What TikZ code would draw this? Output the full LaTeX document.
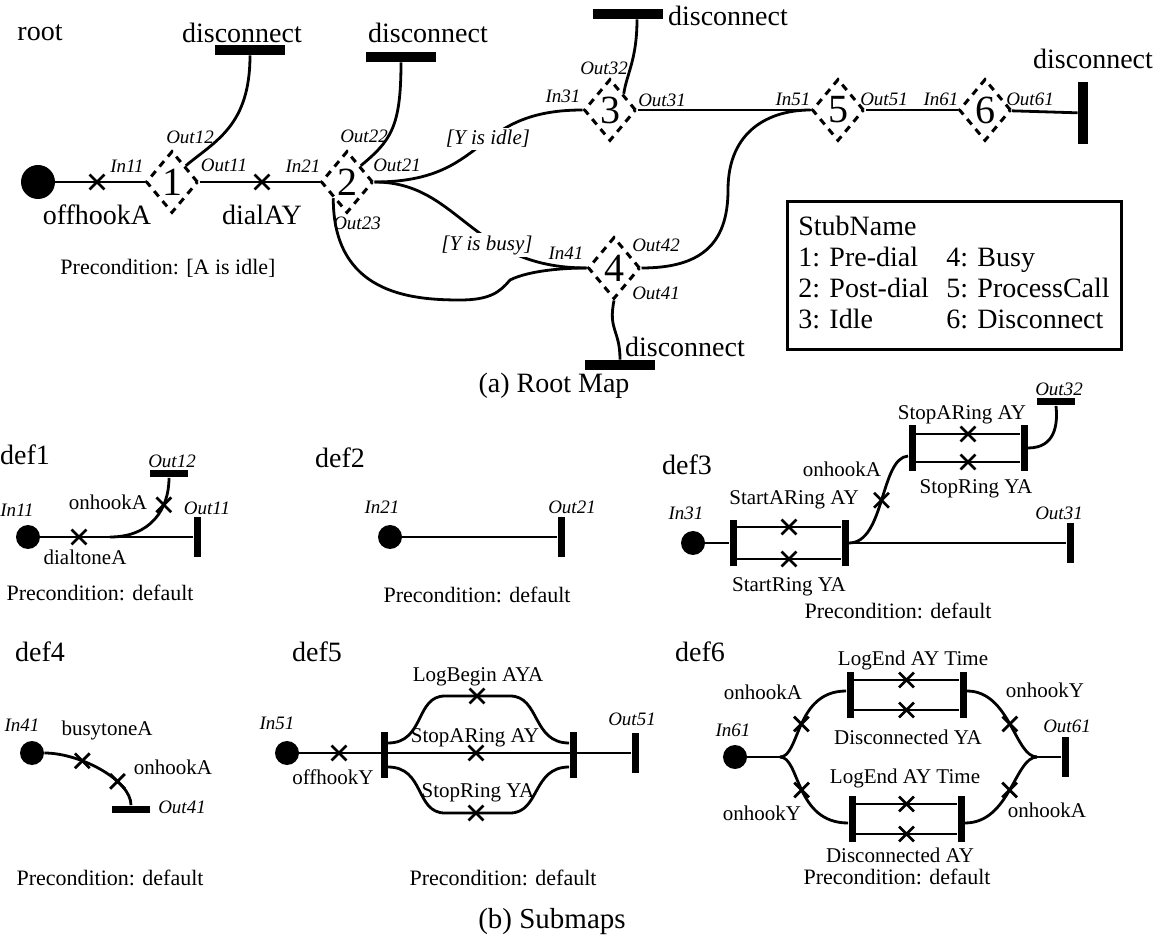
\documentclass[tikz,border=0pt]{standalone}
\usepackage{fontspec}
\setmainfont{Liberation Serif}
\usetikzlibrary{shapes.geometric, shapes.misc, positioning, calc}

\begin{document}
\begin{tikzpicture}[
    x=0.5pt, y=-0.5pt,
    wire/.style={line width=1.4pt},
    big/.style={font=\fontsize{14}{15.5}\selectfont, inner sep=0},
    lab/.style={font=\fontsize{10.5}{12}\selectfont, inner sep=0},
    pre/.style={font=\fontsize{11}{13}\selectfont, inner sep=0},
    port/.style={font=\itshape\fontsize{9.5}{11}\selectfont, inner sep=0},
    cond/.style={font=\itshape\fontsize{10.5}{12}\selectfont, fill=white, inner sep=1pt},
    stub/.style={diamond, draw, dash pattern=on 3.5pt off 3pt, line width=1.5pt,
      minimum width=26pt, minimum height=31pt, inner sep=0,
      font=\fontsize{20}{20}\selectfont},
    start/.style={circle, fill, minimum size=17pt, inner sep=0},
    sstart/.style={circle, fill, minimum size=12pt, inner sep=0},
    hbar/.style={rectangle, fill, minimum width=35pt, minimum height=5pt, inner sep=0},
    vbar/.style={rectangle, fill, minimum width=5pt, minimum height=31pt, inner sep=0},
    shbar/.style={rectangle, fill, minimum width=19pt, minimum height=3.5pt, inner sep=0},
    svbar/.style={rectangle, fill, minimum width=3.5pt, minimum height=20pt, inner sep=0},
    andbar/.style={rectangle, fill, minimum width=3.5pt, minimum height=23pt, inner sep=0},
    resp/.style={cross out, draw, line width=1.4pt, minimum size=6pt, inner sep=0}
]
\useasboundingbox (0,0) rectangle (1162,940);

% (a) root map
\node[big] (root) at (40,33) {root};
\node[start] (st) at (38,182) {};
\node[stub] (s1) at (172,182) {1};
\node[stub] (s2) at (347,182) {2};
\node[stub] (s3) at (610,110) {3};
\node[stub] (s4) at (614,268) {4};
\node[stub] (s5) at (838,110) {5};
\node[stub] (s6) at (985,110) {6};
\node[hbar] (e1) at (250,50) {};
\node[hbar] (e2) at (401,57) {};
\node[hbar] (e3) at (628,14) {};
\node[hbar] (e4) at (620,365) {};
\node[vbar] (e6) at (1083,113) {};
\node[big] (e1l) at (242,33) {disconnect};
\node[big] (e2l) at (428,33) {disconnect};
\node[big] (e3l) at (728,16) {disconnect};
\node[big] (e4l) at (685,347) {disconnect};
\node[big] (e6l) at (1093,59) {disconnect};

\draw[wire] (st) -- (s1);
\draw[wire] (s1) -- (s2);
\draw[wire] (e1.south) .. controls +(0,70) and +(30,-25) .. (s1.north east);
\draw[wire] (e2.south) .. controls +(0,65) and +(30,-25) .. (s2.north east);
\draw[wire] (s2.east) .. controls (460,182) and (470,268) .. (s4.west);
\draw[wire] (s2.south west) .. controls +(0,95) and +(-50,0) .. (460,300)
  .. controls +(30,0) and +(-10,12) .. (510,280)
  .. controls +(20,-10) and +(-20,0) .. (s4.west);
\draw[wire] (s3) -- (s5);
\draw[wire] ([xshift=4.5pt]e3.south) .. controls +(0,40) and +(3,-20) .. (s3.north east);
\draw[wire] (s4.east) .. controls (700,268) and (728,245) .. (728,190)
  .. controls (728,130) and (770,110) .. (s5.west);
\draw[wire] (s5) -- (s6);
\draw[wire] (s6) -- (e6);
\draw[wire] (s4.south) .. controls +(-6,30) and +(0,-30) .. (e4.north);
\node[cond] (busy) at (487,245) {[Y is busy]};
\draw[wire] (s2.east) .. controls (490,182) and (470,110) .. (s3.west);
\node[cond] (idle) at (488,139) {[Y is idle]};

\node[resp] (r1) at (97,182) {};
\node[resp] (r2) at (262,182) {};
\node[big] (r1l) at (97,215) {offhookA};
\node[big] (r2l) at (262,215) {dialAY};

\node[port] (in11) at (127,166) {In11};
\node[port] (out12) at (190,137) {Out12};
\node[port] (out11) at (224,165) {Out11};
\node[port] (in21) at (303,166) {In21};
\node[port] (out22) at (364,136) {Out22};
\node[port] (out21) at (397,165) {Out21};
\node[port] (out23) at (357,223) {Out23};
\node[port] (in31) at (563,96) {In31};
\node[port] (out32) at (604,68) {Out32};
\node[port] (out31) at (662,100) {Out31};
\node[port] (in41) at (566,253) {In41};
\node[port] (out42) at (656,245) {Out42};
\node[port] (out41) at (656,293) {Out41};
\node[port] (in51) at (793,99) {In51};
\node[port] (out51) at (884,99) {Out51};
\node[port] (in61) at (941,99) {In61};
\node[port] (out61) at (1030,99) {Out61};

\node[pre] (rpre) at (168,268) {Precondition: [A is idle]};
\node[big, draw, line width=1.5pt, inner sep=0, minimum width=167pt,
  minimum height=74pt] (legend) at (954,276) {%
  \begin{tabular}{@{}p{74pt}@{}l@{}}
  StubName & \\
  1: Pre-dial & 4: Busy\\
  2: Post-dial & 5: ProcessCall\\
  3: Idle & 6: Disconnect
  \end{tabular}};
\node[big] (capa) at (554,386) {(a) Root Map};

% (b) submaps
% def1
\node[big] (def1) at (25,455) {def1};
\node[sstart] (d1s) at (28,537) {};
\node[svbar] (d1o11) at (197,537) {};
\node[shbar] (d1o12) at (169,474) {};
\coordinate (d1f) at (110,537);
\draw[wire] (d1s) -- (d1o11);
\draw[wire] (d1f) .. controls (150,537) and (169,510) ..
  node[resp, pos=0.7] (d1r2) {} (d1o12.south);
\node[resp] (d1r1) at (79,537) {};
\node[port] (d1in) at (17,510) {In11};
\node[port] (d1out11) at (207,508) {Out11};
\node[port] (d1out12) at (172,461) {Out12};
\node[lab] (d1r2l) at (108,502) {onhookA};
\node[lab] (d1r1l) at (85,557) {dialtoneA};
\node[pre] (d1pre) at (100,593) {Precondition: default};

% def2
\node[big] (def2) at (340,458) {def2};
\node[sstart] (d2s) at (390,537) {};
\node[svbar] (d2o21) at (561,537) {};
\draw[wire] (d2s) -- (d2o21);
\node[port] (d2in) at (382,507) {In21};
\node[port] (d2out) at (572,507) {Out21};
\node[pre] (d2pre) at (477,595) {Precondition: default};

% def3
\node[big] (def3) at (687,465) {def3};
\node[sstart] (d3s) at (693,543) {};
\node[andbar] (d3b1) at (733,543) {};
\node[andbar] (d3b2) at (845,543) {};
\node[andbar] (d3b3) at (912,448) {};
\node[andbar] (d3b4) at (1024,448) {};
\node[svbar] (d3o31) at (1070,543) {};
\node[shbar] (d3o32) at (1056,402) {};
\draw[wire] (d3s) -- (d3b1);
\draw[wire] ([yshift=8pt]d3b1.east) -- node[resp] (d3r1) {} ([yshift=8pt]d3b2.west);
\draw[wire] ([yshift=-8pt]d3b1.east) -- node[resp] (d3r2) {} ([yshift=-8pt]d3b2.west);
\draw[wire] (d3b2) -- (d3o31);
\draw[wire] (d3b2.east) .. controls (885,543) and (880,458) ..
  node[resp, pos=0.5] (d3r3) {} ([yshift=-4pt]d3b3.west);
\draw[wire] ([yshift=7pt]d3b3.east) -- node[resp] (d3r4) {} ([yshift=7pt]d3b4.west);
\draw[wire] ([yshift=-7pt]d3b3.east) -- node[resp] (d3r5) {} ([yshift=-7pt]d3b4.west);
\draw[wire] (d3b4.east) .. controls (1055,448) and (1058,425) .. (d3o32.south);
\node[port] (d3in) at (686,513) {In31};
\node[port] (d3out31) at (1059,513) {Out31};
\node[port] (d3out32) at (1059,389) {Out32};
\node[lab] (d3r1l) at (794,500) {StartARing AY};
\node[lab] (d3r2l) at (789,587) {StartRing YA};
\node[lab] (d3r3l) at (842,469) {onhookA};
\node[lab] (d3r4l) at (962,415) {StopARing AY};
\node[lab] (d3r5l) at (976,489) {StopRing YA};
\node[pre] (d3pre) at (898,611) {Precondition: default};

% def4
\node[big] (def4) at (40,652) {def4};
\node[sstart] (d4s) at (32,753) {};
\node[shbar] (d4o41) at (131,809) {};
\draw[wire] (d4s) .. controls (80,753) and (131,780) ..
  node[resp, pos=0.33] (d4r1) {}
  node[resp, pos=0.68] (d4r2) {} (d4o41.north);
\node[port] (d4in) at (22,725) {In41};
\node[port] (d4out) at (182,807) {Out41};
\node[lab] (d4r1l) at (107,730) {busytoneA};
\node[lab] (d4r2l) at (173,767) {onhookA};
\node[pre] (d4pre) at (110,878) {Precondition: default};

% def5
\node[big] (def5) at (317,652) {def5};
\node[sstart] (d5s) at (287,753) {};
\node[andbar] (d5b1) at (384,755) {};
\node[andbar] (d5b2) at (573,755) {};
\node[svbar] (d5o51) at (635,753) {};
\draw[wire] (d5s) -- (d5o51);
\draw[wire] ([yshift=6pt]d5b1.east) .. controls (425,743) and (415,696) .. (445,696)
  -- (510,696) .. controls (540,696) and (532,743) .. ([yshift=6pt]d5b2.west);
\draw[wire] ([yshift=-6pt]d5b1.east) .. controls (425,767) and (415,813) .. (445,813)
  -- (510,813) .. controls (540,813) and (532,767) .. ([yshift=-6pt]d5b2.west);
\node[resp] (d5r1) at (339,753) {};
\node[resp] (d5r2) at (477,696) {};
\node[resp] (d5r3) at (476,753) {};
\node[resp] (d5r4) at (476,813) {};
\node[port] (d5in) at (277,723) {In51};
\node[port] (d5out) at (632,719) {Out51};
\node[lab] (d5r1l) at (333,777) {offhookY};
\node[lab] (d5r2l) at (478,677) {LogBegin AYA};
\node[lab] (d5r3l) at (475,738) {StopARing AY};
\node[lab] (d5r4l) at (478,793) {StopRing YA};
\node[pre] (d5pre) at (503,878) {Precondition: default};

% def6
\node[big] (def6) at (700,652) {def6};
\node[sstart] (d6s) at (735,757) {};
\coordinate (d6f) at (780,757);
\coordinate (d6j) at (1037,757);
\node[andbar] (d6b1) at (850,695) {};
\node[andbar] (d6b2) at (963,695) {};
\node[andbar] (d6b3) at (852,819) {};
\node[andbar] (d6b4) at (961,819) {};
\node[svbar] (d6o61) at (1065,757) {};
\draw[wire] (d6s) -- (d6f);
\draw[wire] (d6j) -- (d6o61);
\draw[wire] (d6f) .. controls (800,757) and (795,691) ..
  node[resp, pos=0.5] (d6r1) {} ([yshift=2pt]d6b1.west);
\draw[wire] (d6f) .. controls (800,757) and (795,823) ..
  node[resp, pos=0.5] (d6r2) {} ([yshift=-2pt]d6b3.west);
\draw[wire] ([yshift=2pt]d6b2.east) .. controls (1010,691) and (1015,757) ..
  node[resp, pos=0.5] (d6r3) {} (d6j);
\draw[wire] ([yshift=-2pt]d6b4.east) .. controls (1010,823) and (1015,757) ..
  node[resp, pos=0.5] (d6r4) {} (d6j);
\draw[wire] ([yshift=7.5pt]d6b1.east) -- node[resp] (d6r5) {} ([yshift=7.5pt]d6b2.west);
\draw[wire] ([yshift=-7.5pt]d6b1.east) -- node[resp] (d6r6) {} ([yshift=-7.5pt]d6b2.west);
\draw[wire] ([yshift=7.5pt]d6b3.east) -- node[resp] (d6r7) {} ([yshift=7.5pt]d6b4.west);
\draw[wire] ([yshift=-7.5pt]d6b3.east) -- node[resp] (d6r8) {} ([yshift=-7.5pt]d6b4.west);
\node[port] (d6in) at (733,730) {In61};
\node[port] (d6out) at (1067,726) {Out61};
\node[lab] (d6r1l) at (763,692) {onhookA};
\node[lab] (d6r2l) at (762,813) {onhookY};
\node[lab] (d6r3l) at (1045,690) {onhookY};
\node[lab] (d6r4l) at (1047,810) {onhookA};
\node[lab] (d6r5l) at (913,660) {LogEnd AY Time};
\node[lab] (d6r6l) at (908,737) {Disconnected YA};
\node[lab] (d6r7l) at (905,778) {LogEnd AY Time};
\node[lab] (d6r8l) at (900,855) {Disconnected AY};
\node[pre] (d6pre) at (897,877) {Precondition: default};

\node[big, font=\fontsize{14.5}{16}\selectfont] (capb) at (552,922) {(b) Submaps};
\end{tikzpicture}
\end{document}
